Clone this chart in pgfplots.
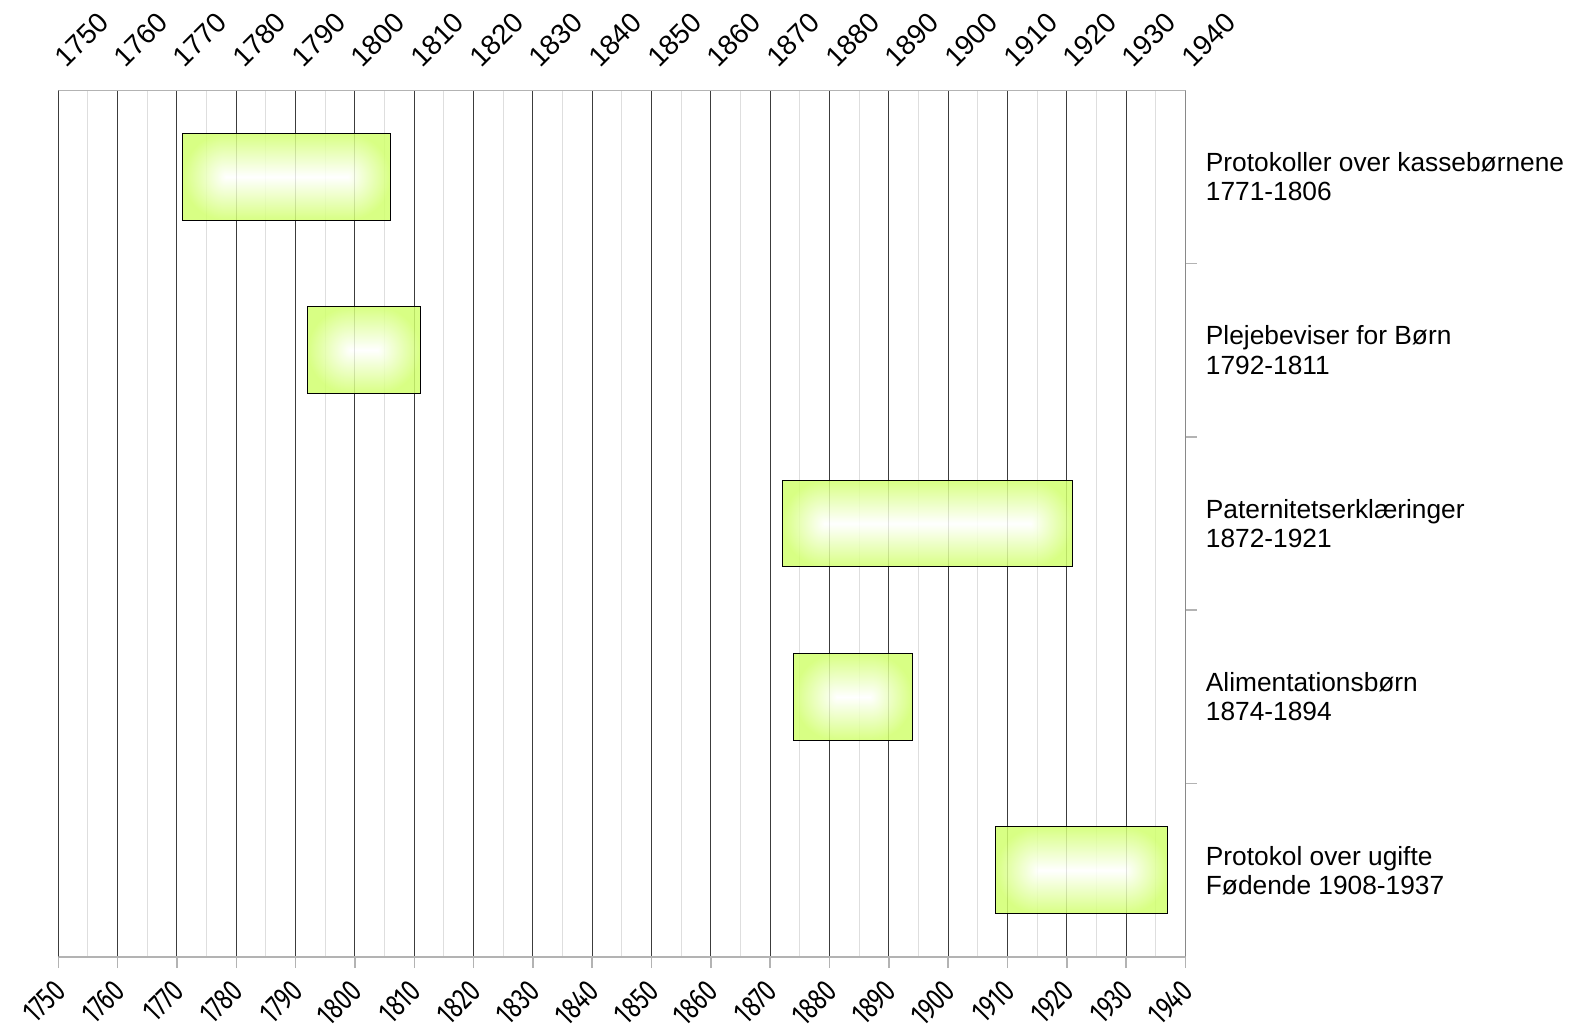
\documentclass[border=0pt]{standalone}
\usepackage{pgfplots}
\pgfplotsset{compat=1.18}
\usepackage{fontspec}
\setmainfont{Liberation Sans}
\newfontfamily\tickfont[FakeStretch=0.75]{Fira Sans}
\definecolor{axgray}{RGB}{179,179,179}
\definecolor{minorgray}{RGB}{222,222,222}
\definecolor{majorgray}{RGB}{60,60,60}

% gradient: lime at the edges, white along the middle (#2 = 1-1/a, #3 = a = width/height)
\def\barshade#1#2#3{%
  \pgfdeclarefunctionalshading{#1}{\pgfpointorigin}{\pgfpoint{100bp}{100bp}}{}{%
    50 sub 25 div dup mul exch 50 sub 25 div abs #2 sub dup 0 lt {pop 0} if
    #3 mul dup mul add sqrt 1 exch sub dup 0 lt {pop 0} if
    dup 0.18 mul 0.82 add exch 1 exch 0.57 mul 0.43 add}}
\barshade{barA}{0.585}{2.41}
\barshade{barB}{0.237}{1.31}
\barshade{barC}{0.704}{3.38}
\barshade{barD}{0.275}{1.38}
\barshade{barE}{0.500}{2.00}

\begin{document}
\begin{tikzpicture}
\pgfplotsset{
  common/.style={
    scale only axis, width=563.6bp, height=433.5bp,
    xmin=1750, xmax=1940, ymin=-0.5, ymax=4.5, y dir=reverse,
    xtick={1750,1760,...,1940},
    /pgf/number format/1000 sep={},
    /pgf/number format/assume math mode=true,
  },
  bar/.style={draw=black, line width=0.5bp, shading=#1, fill opacity=0.85},
}
\begin{axis}[common,
  axis line style={draw=none},
  minor x tick num=1,
  xmajorgrids, xminorgrids,
  major grid style={majorgray, line width=0.5bp},
  minor grid style={minorgray, line width=0.5bp},
  tick align=outside, xtick pos=lower, xticklabel pos=lower,
  major tick length=5.5bp, minor tick length=0pt,
  tick style={axgray, line width=0.75bp},
  xticklabel style={font=\tickfont\fontsize{15.5}{17}\selectfont, xshift=-3bp, yshift=-3.5bp, rotate=45, anchor=north east, inner sep=1bp},
  ytick={0.5,1.5,2.5,3.5}, yticklabels={}, ytick pos=right, yticklabel pos=right,
  extra y ticks={0,1,2,3,4},
  extra y tick labels={{Protokoller over kassebørnene\\1771-1806},
                       {Plejebeviser for Børn\\1792-1811},
                       {Paternitetserklæringer\\1872-1921},
                       {Alimentationsbørn\\1874-1894},
                       {Protokol over ugifte\\Fødende 1908-1937}},
  extra y tick style={major tick length=0pt},
  yticklabel style={font=\fontsize{13.2}{14.6}\selectfont, align=left, anchor=west, inner sep=0pt, xshift=10bp},
]
\addplot[bar=barA] coordinates {(1771,-0.25) (1806,-0.25) (1806,0.25) (1771,0.25)} -- cycle;
\addplot[bar=barB] coordinates {(1792,0.75) (1811,0.75) (1811,1.25) (1792,1.25)} -- cycle;
\addplot[bar=barC] coordinates {(1872,1.75) (1921,1.75) (1921,2.25) (1872,2.25)} -- cycle;
\addplot[bar=barD] coordinates {(1874,2.75) (1894,2.75) (1894,3.25) (1874,3.25)} -- cycle;
\addplot[bar=barE] coordinates {(1908,3.75) (1937,3.75) (1937,4.25) (1908,4.25)} -- cycle;
\draw[axgray, line width=0.75bp] (axis cs:1940,-0.5) -- (axis cs:1940,4.5);
\draw[axgray, line width=0.75bp] (axis cs:1750,-0.5) -- (axis cs:1942,-0.5);
\draw[axgray, line width=0.75bp] (axis cs:1750,4.5) -- (axis cs:1942,4.5);
\pgfplotsinvokeforeach{1750,1760,...,1940}{
  \draw[axgray, line width=0.75bp] (axis cs:#1,-0.5) -- (axis cs:#1,-0.565);
}
\end{axis}
\begin{axis}[common,
  hide y axis,
  axis line style={draw=none}, tick style={draw=none},
  xticklabel pos=upper, xtick pos=upper,
  xticklabel style={font=\fontsize{14}{16}\selectfont, xshift=4bp, yshift=9bp, rotate=45, anchor=south west, inner sep=1bp},
]
\end{axis}
\pgfresetboundingbox
\path (-29.15bp,-38bp) rectangle (756.85bp,478.5bp);
\end{tikzpicture}
\end{document}
